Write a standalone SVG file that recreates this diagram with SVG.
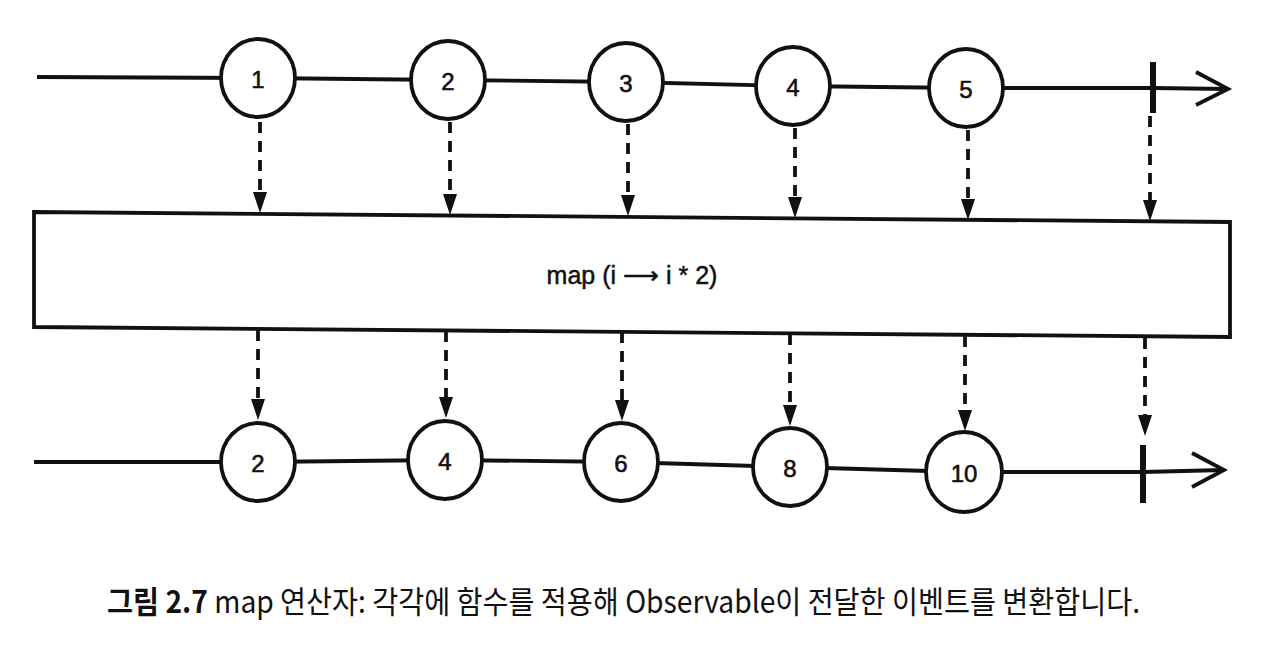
<svg xmlns="http://www.w3.org/2000/svg" width="1272" height="650" viewBox="0 0 1272 650">
<defs>
<style>
.line{fill:none;stroke:#111;stroke-width:3.8}
.node ellipse{fill:#fff;stroke:#111;stroke-width:3.8}
.node text{font-family:"Liberation Sans",Arial,sans-serif;font-size:24px;fill:#111;stroke:#111;stroke-width:0.6;text-anchor:middle;dominant-baseline:central}
.dash{fill:none;stroke:#111;stroke-width:3.8;stroke-dasharray:11,8}
.head{fill:#111}
.bar{stroke:#111;stroke-width:6}
.box{fill:#fff;stroke:#111;stroke-width:3.8}
.lbl{font-family:"Liberation Sans",Arial,sans-serif;font-size:25px;fill:#111;stroke:#111;stroke-width:0.5;text-anchor:middle;dominant-baseline:central}
</style>
</defs>
<rect width="1272" height="650" fill="#fff"/>
<g id="timelines">
<polyline class="line" points="37,77 258,78 448,80 626,82 793,86 966,88 1153,88 1228,89"/>
<polyline class="line" points="1196,72 1228,89 1196,105"/>
<line class="bar" x1="1153" y1="62" x2="1153" y2="113"/>
<polyline class="line" points="34,462 258,462 445,460 621,462 790,467 964,472 1143,472 1224,470"/>
<polyline class="line" points="1192,453 1224,470 1192,487"/>
<line class="bar" x1="1143" y1="445" x2="1143" y2="503"/>
</g>
<g id="connectors">
<line class="dash" x1="260" y1="122" x2="260" y2="195"/><polygon class="head" points="253,192 267,192 260,213"/>
<line class="dash" x1="450" y1="122" x2="450" y2="197"/><polygon class="head" points="443,194 457,194 450,215"/>
<line class="dash" x1="628" y1="124" x2="628" y2="198"/><polygon class="head" points="621,195 635,195 628,216"/>
<line class="dash" x1="795" y1="128" x2="795" y2="200"/><polygon class="head" points="788,197 802,197 795,218"/>
<line class="dash" x1="968" y1="130" x2="968" y2="202"/><polygon class="head" points="961,199 975,199 968,220"/>
<line class="dash" x1="1150" y1="116" x2="1150" y2="203"/><polygon class="head" points="1143,200 1157,200 1150,221"/>
<line class="dash" x1="258" y1="330" x2="258" y2="402"/><polygon class="head" points="251,399 265,399 258,420"/>
<line class="dash" x1="446" y1="331" x2="446" y2="400"/><polygon class="head" points="439,397 453,397 446,418"/>
<line class="dash" x1="622" y1="332" x2="622" y2="403"/><polygon class="head" points="615,400 629,400 622,421"/>
<line class="dash" x1="790" y1="334" x2="790" y2="408"/><polygon class="head" points="783,405 797,405 790,426"/>
<line class="dash" x1="965" y1="336" x2="965" y2="413"/><polygon class="head" points="958,410 972,410 965,431"/>
<line class="dash" x1="1145" y1="338" x2="1145" y2="418"/><polygon class="head" points="1138,415 1152,415 1145,436"/>
</g>
<g id="map-box">
<polygon class="box" points="34,212 1230,222 1230,337 34,327"/>
<text class="lbl" x="632" y="275">map (i ⟶ i * 2)</text>
</g>
<g id="in1" class="node"><ellipse cx="258" cy="78" rx="37" ry="39"/><text x="258" y="79">1</text></g>
<g id="in2" class="node"><ellipse cx="448" cy="80" rx="37" ry="39"/><text x="448" y="81">2</text></g>
<g id="in3" class="node"><ellipse cx="626" cy="82" rx="37" ry="39"/><text x="626" y="83">3</text></g>
<g id="in4" class="node"><ellipse cx="793" cy="86" rx="37" ry="39"/><text x="793" y="87">4</text></g>
<g id="in5" class="node"><ellipse cx="966" cy="88" rx="37" ry="39"/><text x="966" y="89">5</text></g>
<g id="out2" class="node"><ellipse cx="258" cy="462" rx="37" ry="39"/><text x="258" y="463">2</text></g>
<g id="out4" class="node"><ellipse cx="445" cy="460" rx="37" ry="39"/><text x="445" y="461">4</text></g>
<g id="out6" class="node"><ellipse cx="621" cy="462" rx="37" ry="39"/><text x="621" y="463">6</text></g>
<g id="out8" class="node"><ellipse cx="790" cy="467" rx="37" ry="39"/><text x="790" y="468">8</text></g>
<g id="out10" class="node"><ellipse cx="964" cy="472" rx="38" ry="40"/><text x="964" y="473">10</text></g>
<g id="caption">
<text x="107" y="613" font-family="'Noto Sans CJK KR','Noto Sans',sans-serif" font-size="31" fill="#111" textLength="1033" lengthAdjust="spacingAndGlyphs"><tspan font-weight="bold">그림 2.7</tspan> map 연산자: 각각에 함수를 적용해 Observable이 전달한 이벤트를 변환합니다.</text>
</g>
</svg>
